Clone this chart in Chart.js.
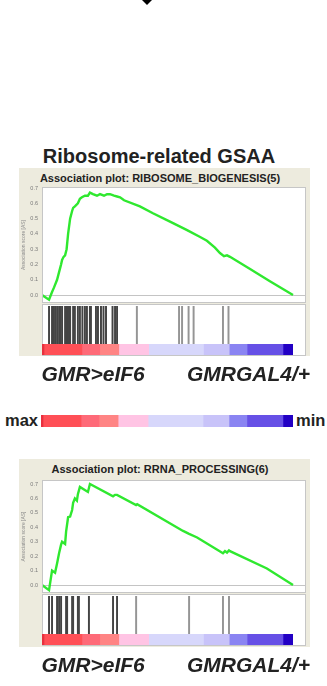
<!DOCTYPE html>
<html>
<head>
<meta charset="utf-8">
<title>Ribosome-related GSAA</title>
<script src="https://cdn.jsdelivr.net/npm/chart.js@4.4.1/dist/chart.umd.min.js"></script>
<style>
    body { margin: 0; width: 327px; height: 686px; background: #fff; position: relative; overflow: hidden;
           font-family: "Liberation Sans", Arial, sans-serif; color: #222; }
    .abs { position: absolute; }
    canvas { position: absolute; }
    .arrow { left: 142px; top: 0; width: 0; height: 0; border-left: 5px solid transparent;
             border-right: 5px solid transparent; border-top: 5px solid #000; }
    .main-title { left: 0; width: 318px; text-align: center; font-weight: bold; font-size: 20px; line-height: 20px; }
    .panel { left: 19px; width: 291px; background: #edebde; }
    .panel-title { left: 0; width: 282px; text-align: center; font-weight: bold; font-size: 11px; line-height: 11px; }
    .group { font-weight: bold; font-style: italic; font-size: 21px; line-height: 21px; white-space: nowrap; }
    .scale-text { font-weight: bold; font-size: 16.5px; line-height: 16.5px; }
</style>
</head>
<body>
<div class="abs arrow"></div>
<div class="abs main-title" style="top:146px">Ribosome-related GSAA</div>

<div class="abs scale-text" style="left:5px; top:412px">max</div>
<div class="abs scale-text" style="left:296px; top:412px">min</div>
<canvas id="scale-bar" width="252" height="12" style="left:41px; top:415px"></canvas>

<script>
// x = rank in the ordered gene list, % (0 = GMR>eIF6 end, 100 = GMRGAL4/+ end)
var biogenesis_rank = [0, 2.8, 4.0, 4.8, 6.0, 6.8, 7.6, 8.0, 8.6, 9.2, 9.8, 10.4, 11.2, 12.0, 12.4, 13.1,
    14.3, 15.1, 15.9, 17.1, 18.3, 19.1, 20.3, 21.9, 23.1, 24.7, 25.9, 27.1, 28.7, 29.9, 31.1, 32.7,
    39.0, 44.2, 51.0, 57.8, 63.0, 65.7, 68.9, 70.9, 72.5, 73.7, 74.9, 82.9, 90.8, 100];
var biogenesis_score = [0, -0.03, 0.02, 0.05, 0.10, 0.15, 0.20, 0.23, 0.25, 0.26, 0.30, 0.40, 0.50, 0.55, 0.57, 0.58,
    0.60, 0.63, 0.64, 0.65, 0.65, 0.67, 0.66, 0.65, 0.66, 0.65, 0.66, 0.66, 0.65, 0.645, 0.64, 0.62,
    0.58, 0.535, 0.48, 0.425, 0.38, 0.355, 0.31, 0.275, 0.255, 0.26, 0.25, 0.17, 0.09, 0];
var biogenesis_hits = [2.8, 4.0, 4.6, 5.2, 6.0, 6.8, 7.4, 8.0, 9.2, 9.6, 10.0, 10.4, 10.8, 11.2, 12.4, 13.1,
    14.3, 15.1, 16.1, 17.1, 17.9, 19.1, 19.5, 21.5, 22.3, 23.5, 24.5, 25.5, 28.1, 29.1, 29.9, 37.8,
    54.6, 55.8, 58.4, 60.4, 72.1, 74.3];

var processing_rank = [0, 2.8, 4.0, 5.2, 6.0, 6.8, 7.6, 8.0, 9.2, 9.6, 10.4, 11.2, 12.0, 12.4, 13.1, 13.9,
    14.3, 15.1, 18.3, 19.1, 28.3, 29.1, 29.9, 37.5, 37.9, 56.2, 58.6, 61.8, 72.1, 72.9, 73.7, 74.5,
    74.9, 89.6, 100];
var processing_score = [0, -0.035, 0.10, 0.085, 0.15, 0.22, 0.28, 0.30, 0.285, 0.37, 0.47, 0.475, 0.52, 0.57, 0.60, 0.585,
    0.63, 0.68, 0.645, 0.70, 0.615, 0.625, 0.625, 0.555, 0.56, 0.375, 0.355, 0.33, 0.22, 0.235, 0.225, 0.24,
    0.235, 0.115, 0];
var processing_hits = [2.8, 4.0, 6.0, 6.8, 7.6, 9.6, 10.0, 12.0, 12.4, 14.3, 14.7, 18.7, 28.3, 29.9, 37.5,
    58.6, 72.1, 74.5];

// rank colour key, from max (red) to min (blue)
var color_stops = [0, 0.8, 15.9, 23.0, 30.6, 42.5, 64.3, 74.6, 81.7, 96.0, 100];
var color_steps = ["#e8303e", "#ff4f56", "#fe6a78", "#ff8484", "#ffc4e4", "#d7d7fb", "#c8c3f9",
    "#8a84f2", "#6650e6", "#2200c4"];
var group_labels = ["GMR>eIF6", "GMRGAL4/+"];

var rank_max = 105.18; // the plot box is a little wider than the ranked list

var panels = [
    { title: "Association plot: RIBOSOME_BIOGENESIS(5)", rank: biogenesis_rank, score: biogenesis_score,
      hits: biogenesis_hits, top: 168, plot_top: 187, plot_bottom: 303, y_min: -0.052, y_max: 0.707 },
    { title: "Association plot: RRNA_PROCESSING(6)", rank: processing_rank, score: processing_score,
      hits: processing_hits, top: 459, plot_top: 480, plot_bottom: 593, y_min: -0.055, y_max: 0.728 }
];

// white plot box with a thin grey frame
var plot_box = {
    id: "plot_box",
    beforeDraw: function(chart, args, opts) {
        var ctx = chart.ctx;
        var a = opts.whole ? {left: 0, top: 0, width: chart.width, height: chart.height} : chart.chartArea;
        ctx.save();
        ctx.fillStyle = "#fff";
        ctx.fillRect(a.left, a.top, a.width, a.height);
        ctx.restore();
    },
    afterDraw: function(chart, args, opts) {
        var ctx = chart.ctx;
        var a = opts.whole ? {left: 0, top: 0, width: chart.width, height: chart.height} : chart.chartArea;
        ctx.save();
        ctx.strokeStyle = "#c6c6c6";
        ctx.lineWidth = 1;
        ctx.strokeRect(Math.round(a.left) + 0.5, Math.round(a.top) + 0.5,
            Math.round(a.width) - 1, Math.round(a.height) - 1);
        ctx.restore();
    }
};

function add_canvas(left, top, width, height) {
    var c = document.createElement("canvas");
    c.width = width;
    c.height = height;
    c.style.left = left + "px";
    c.style.top = top + "px";
    document.body.appendChild(c);
    return c;
}

function add_div(cls, left, top, text, parent) {
    var d = document.createElement("div");
    d.className = "abs " + cls;
    if (left !== null) d.style.left = left + "px";
    d.style.top = top + "px";
    d.textContent = text;
    (parent || document.body).appendChild(d);
    return d;
}

function draw_color_bar(canvas) {
    new Chart(canvas, {
        type: "bar",
        data: {
            labels: [""],
            datasets: color_steps.map(function(c, i) {
                return {
                    data: [color_stops[i + 1] - color_stops[i]],
                    backgroundColor: c,
                    borderWidth: 0,
                    barPercentage: 1,
                    categoryPercentage: 1
                };
            })
        },
        options: {
            indexAxis: "y",
            responsive: false,
            animation: false,
            layout: { padding: 0 },
            plugins: { legend: { display: false }, tooltip: { enabled: false } },
            scales: {
                x: { stacked: true, min: 0, max: 100, display: false },
                y: { stacked: true, display: false }
            }
        }
    });
}

function draw_panel(p) {
    var panel = add_div("panel", null, p.top, "");
    panel.style.height = "188px";
    add_div("panel-title", 0, 5, p.title, panel);

    // association score line
    var plot_h = p.plot_bottom - p.plot_top;
    var line_canvas = add_canvas(19, p.plot_top - 8, 291, plot_h + 16);
    new Chart(line_canvas, {
        type: "line",
        data: {
            datasets: [{
                data: p.rank.map(function(r, i) { return {x: r, y: p.score[i]}; }),
                borderColor: "#2fe82f",
                borderWidth: 2.4,
                pointRadius: 0,
                tension: 0,
                fill: false
            }]
        },
        plugins: [plot_box],
        options: {
            responsive: false,
            animation: false,
            layout: { padding: { top: 8, right: 4, bottom: 8, left: 0 } },
            plugins: { legend: { display: false }, tooltip: { enabled: false }, plot_box: { whole: false } },
            scales: {
                x: { type: "linear", min: 0, max: rank_max, display: false },
                y: {
                    min: p.y_min,
                    max: p.y_max,
                    afterFit: function(axis) { axis.width = 23; },
                    border: { display: false },
                    grid: {
                        drawTicks: false,
                        color: function(c) {
                            return c.tick && Math.abs(c.tick.value) < 1e-9 ? "#c4c4c4" : "rgba(0,0,0,0)";
                        }
                    },
                    ticks: {
                        stepSize: 0.1,
                        includeBounds: false,
                        padding: 4,
                        color: "#7a7a7a",
                        font: { size: 5.5 },
                        callback: function(v) { return v.toFixed(1); }
                    },
                    title: {
                        display: true,
                        text: "Association score [AS]",
                        color: "#8a8a8a",
                        font: { size: 5 },
                        padding: { top: 2, bottom: 0 }
                    }
                }
            }
        }
    });

    // gene hits barcode
    var bar_top = p.plot_bottom + 1;
    var bar_canvas = add_canvas(42, bar_top, 264, 52);
    new Chart(bar_canvas, {
        type: "bar",
        data: {
            datasets: [{
                data: p.hits.map(function(r) { return {x: r, y: 1}; }),
                backgroundColor: function(c) { return c.raw && c.raw.x < 35 ? "#444444" : "#959595"; },
                borderWidth: 0,
                barThickness: 1.3,
                grouped: false
            }]
        },
        plugins: [plot_box],
        options: {
            responsive: false,
            animation: false,
            layout: { padding: { top: 2, right: 0, bottom: 12, left: 0 } },
            plugins: { legend: { display: false }, tooltip: { enabled: false }, plot_box: { whole: true } },
            scales: {
                x: { type: "linear", offset: false, min: 0, max: rank_max, display: false },
                y: { min: 0, max: 1, display: false }
            }
        }
    });

    // rank colour strip
    draw_color_bar(add_canvas(42, bar_top + 40, 251, 11));

    var label_top = p.top + 195;
    add_div("group", 41.5, label_top, group_labels[0]);
    add_div("group", 187, label_top, group_labels[1]);
}

draw_color_bar(document.getElementById("scale-bar"));
panels.forEach(draw_panel);
</script>
</body>
</html>
